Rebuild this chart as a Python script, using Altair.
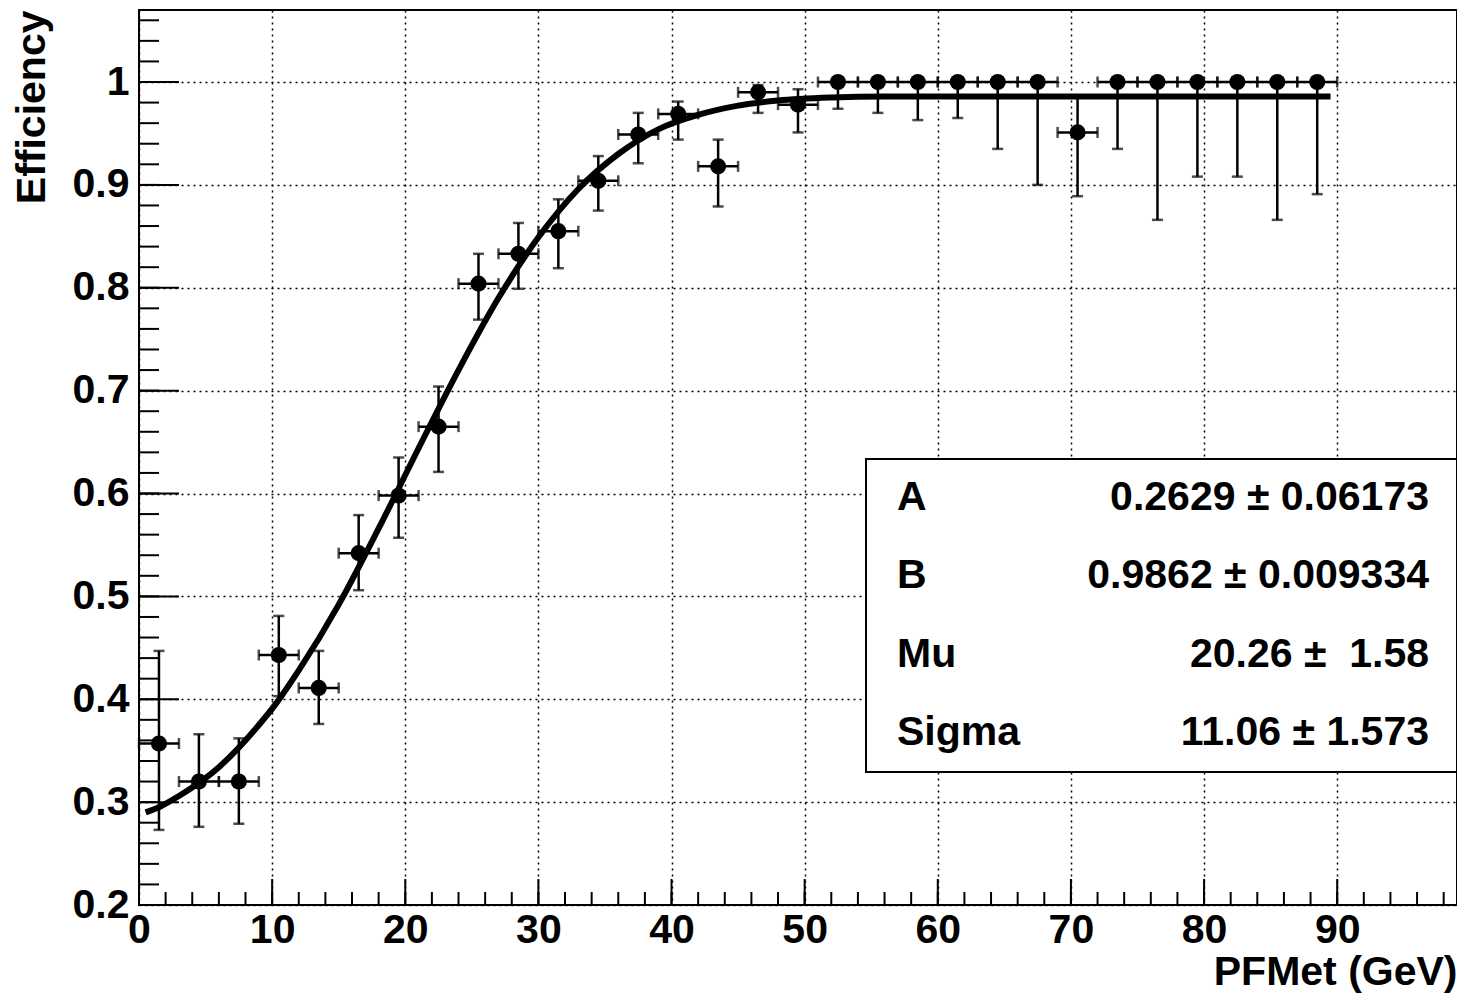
import altair as alt
import pandas as pd

# ---- data ----
met = [1.5, 4.5, 7.5, 10.5, 13.5, 16.5, 19.5, 22.5, 25.5, 28.5,
       31.5, 34.5, 37.5, 40.5, 43.5, 46.5, 49.5, 52.5, 55.5, 58.5,
       61.5, 64.5, 67.5, 70.5, 73.5, 76.5, 79.5, 82.5, 85.5, 88.5]
met_half_width = 1.5
eff = [0.357, 0.320, 0.320, 0.443, 0.411, 0.542, 0.598, 0.665, 0.804, 0.833,
       0.855, 0.904, 0.949, 0.969, 0.918, 0.990, 0.978, 1.0, 1.0, 1.0,
       1.0, 1.0, 1.0, 0.951, 1.0, 1.0, 1.0, 1.0, 1.0, 1.0]
eff_low = [0.273, 0.276, 0.279, 0.403, 0.376, 0.506, 0.557, 0.621, 0.769, 0.799,
           0.819, 0.875, 0.921, 0.944, 0.879, 0.970, 0.951, 0.974, 0.970, 0.963,
           0.965, 0.935, 0.900, 0.889, 0.935, 0.866, 0.908, 0.908, 0.866, 0.891]
eff_high = [0.447, 0.366, 0.362, 0.481, 0.447, 0.579, 0.635, 0.704, 0.833, 0.863,
            0.886, 0.928, 0.970, 0.981, 0.944, 0.997, 0.993, 1.0, 1.0, 1.0,
            1.0, 1.0, 1.0, 0.985, 1.0, 1.0, 1.0, 1.0, 1.0, 1.0]

fit_x = [0.5, 1.5, 3, 6, 9, 10.25, 12, 15, 18, 21, 24, 27, 30, 33, 36, 39,
         42, 45, 48, 52, 56, 60, 70, 80, 89.5]
fit_y = [0.290, 0.295, 0.306, 0.334, 0.375, 0.395, 0.428, 0.492, 0.566, 0.644,
         0.720, 0.790, 0.849, 0.896, 0.930, 0.954, 0.968, 0.977, 0.982, 0.985,
         0.986, 0.986, 0.986, 0.986, 0.986]

stat_names = ["A", "B", "Mu", "Sigma"]
stat_values = ["0.2629 \u00b1 0.06173", "0.9862 \u00b1 0.009334",
               "20.26 \u00b1\u00a0\u00a01.58", "11.06 \u00b1 1.573"]

x_tick_labels = [0, 10, 20, 30, 40, 50, 60, 70, 80, 90]
y_tick_labels = [0.2, 0.3, 0.4, 0.5, 0.6, 0.7, 0.8, 0.9, 1.0]
x_minor = [2 * i for i in range(50)]
y_minor = [round(0.2 + 0.02 * i, 2) for i in range(44)]

# ---- layout ----
W, H = 1318, 895
LEFT = 131
FONT = "Liberation Sans"
FS = 41
LW = 2.5

df = pd.DataFrame({"met": met, "eff": eff, "lo": eff_low, "hi": eff_high})
df["xlo"] = df["met"] - met_half_width
df["xhi"] = df["met"] + met_half_width
fit_df = pd.DataFrame({"fx": fit_x, "fy": fit_y})

xs = alt.Scale(domain=[0, 99], nice=False, zero=False)
ys = alt.Scale(domain=[0.2, 1.07], nice=False, zero=False)

x_axis = alt.Axis(values=x_tick_labels, tickSize=0, domain=False, grid=True,
                  gridColor="black", gridDash=[2, 4], gridWidth=1.5,
                  labelFont=FONT, labelFontSize=FS, labelFontWeight="bold",
                  labelColor="black", labelPadding=5, labelFlush=False,
                  labelOverlap=False,
                  title="PFMet (GeV)", titleFont=FONT, titleFontSize=FS,
                  titleFontWeight="bold", titleColor="black",
                  titleAnchor="end", titleAlign="right", titleX=W, titleY=79,
                  titleBaseline="alphabetic")
y_axis = alt.Axis(values=y_tick_labels, format="~g", tickSize=0, domain=False,
                  grid=True, gridColor="black", gridDash=[2, 4], gridWidth=1.5,
                  labelFont=FONT, labelFontSize=FS, labelFontWeight="bold",
                  labelColor="black", labelPadding=10, labelFlush=False,
                  labelOverlap=False,
                  title="Efficiency", titleFont=FONT, titleFontSize=FS,
                  titleFontWeight="bold", titleColor="black",
                  titleAngle=270, titleAlign="right", titleX=-95, titleY=0,
                  titleBaseline="alphabetic")


def X(field):
    return alt.X(field, scale=xs, axis=x_axis)


def Y(field):
    return alt.Y(field, scale=ys, axis=y_axis)


base = alt.Chart(df)

# error bars
vbar = base.mark_rule(color="black", strokeWidth=LW).encode(
    x=X("met:Q"), y=Y("lo:Q"), y2="hi:Q")
hbar = base.mark_rule(color="black", strokeWidth=LW).encode(
    x=X("xlo:Q"), x2="xhi:Q", y=Y("eff:Q"))
cap_lo = base.mark_tick(color="black", orient="horizontal", size=11,
                        thickness=LW).encode(x=X("met:Q"), y=Y("lo:Q"))
cap_hi = base.transform_filter("datum.hi > datum.eff").mark_tick(
    color="black", orient="horizontal", size=11, thickness=LW).encode(
    x=X("met:Q"), y=Y("hi:Q"))
cap_l = base.mark_tick(color="black", orient="vertical", size=11,
                       thickness=LW).encode(x=X("xlo:Q"), y=Y("eff:Q"))
cap_r = base.mark_tick(color="black", orient="vertical", size=11,
                       thickness=LW).encode(x=X("xhi:Q"), y=Y("eff:Q"))

points = base.mark_circle(color="black", opacity=1, size=260).encode(
    x=X("met:Q"), y=Y("eff:Q"))

fit = alt.Chart(fit_df).mark_line(color="black", strokeWidth=6,
                                  interpolate="monotone").encode(
    x=X("fx:Q"), y=Y("fy:Q"))


# inward tick marks
def xticks(vals, length):
    return alt.Chart(pd.DataFrame({"v": vals})).mark_rule(
        color="black", strokeWidth=2).encode(
        x=X("v:Q"), y=alt.value(H), y2=alt.value(H - length))


def yticks(vals, length):
    return alt.Chart(pd.DataFrame({"v": vals})).mark_rule(
        color="black", strokeWidth=2).encode(
        y=Y("v:Q"), x=alt.value(0), x2=alt.value(length))


tick_layers = [xticks(x_minor, 13), xticks(x_tick_labels, 26),
               yticks(y_minor, 20), yticks(y_tick_labels, 40)]

# stats box
box = alt.Chart(alt.Data(values=[{}])).mark_rect(
    fill="white", stroke="black", strokeWidth=2).encode(
    x=alt.value(866 - 8 - LEFT), x2=alt.value(W),
    y=alt.value(449), y2=alt.value(762))

stat_layers = []
for i, (n, v) in enumerate(zip(stat_names, stat_values)):
    yy = 488 + i * 78.3
    stat_layers.append(
        alt.Chart(alt.Data(values=[{"t": n}])).mark_text(
            font=FONT, fontSize=FS, fontWeight="bold", color="black",
            align="left", baseline="middle").encode(
            x=alt.value(897 - 8 - LEFT), y=alt.value(yy), text="t:N"))
    stat_layers.append(
        alt.Chart(alt.Data(values=[{"t": v}])).mark_text(
            font=FONT, fontSize=FS, fontWeight="bold", color="black",
            align="right", baseline="middle").encode(
            x=alt.value(1429 - 8 - LEFT), y=alt.value(yy), text="t:N"))

chart = alt.layer(
    *tick_layers, vbar, hbar, cap_lo, cap_hi, cap_l, cap_r, fit,
    points, box, *stat_layers
).properties(
    width=W, height=H,
    autosize=alt.AutoSizeParams(type="none"),
    padding={"left": LEFT, "top": 2, "right": 0, "bottom": 88},
    background="white",
).configure_view(stroke="black", strokeWidth=2)

chart.save("out.html", embed_options={"renderer": "svg", "actions": False})
